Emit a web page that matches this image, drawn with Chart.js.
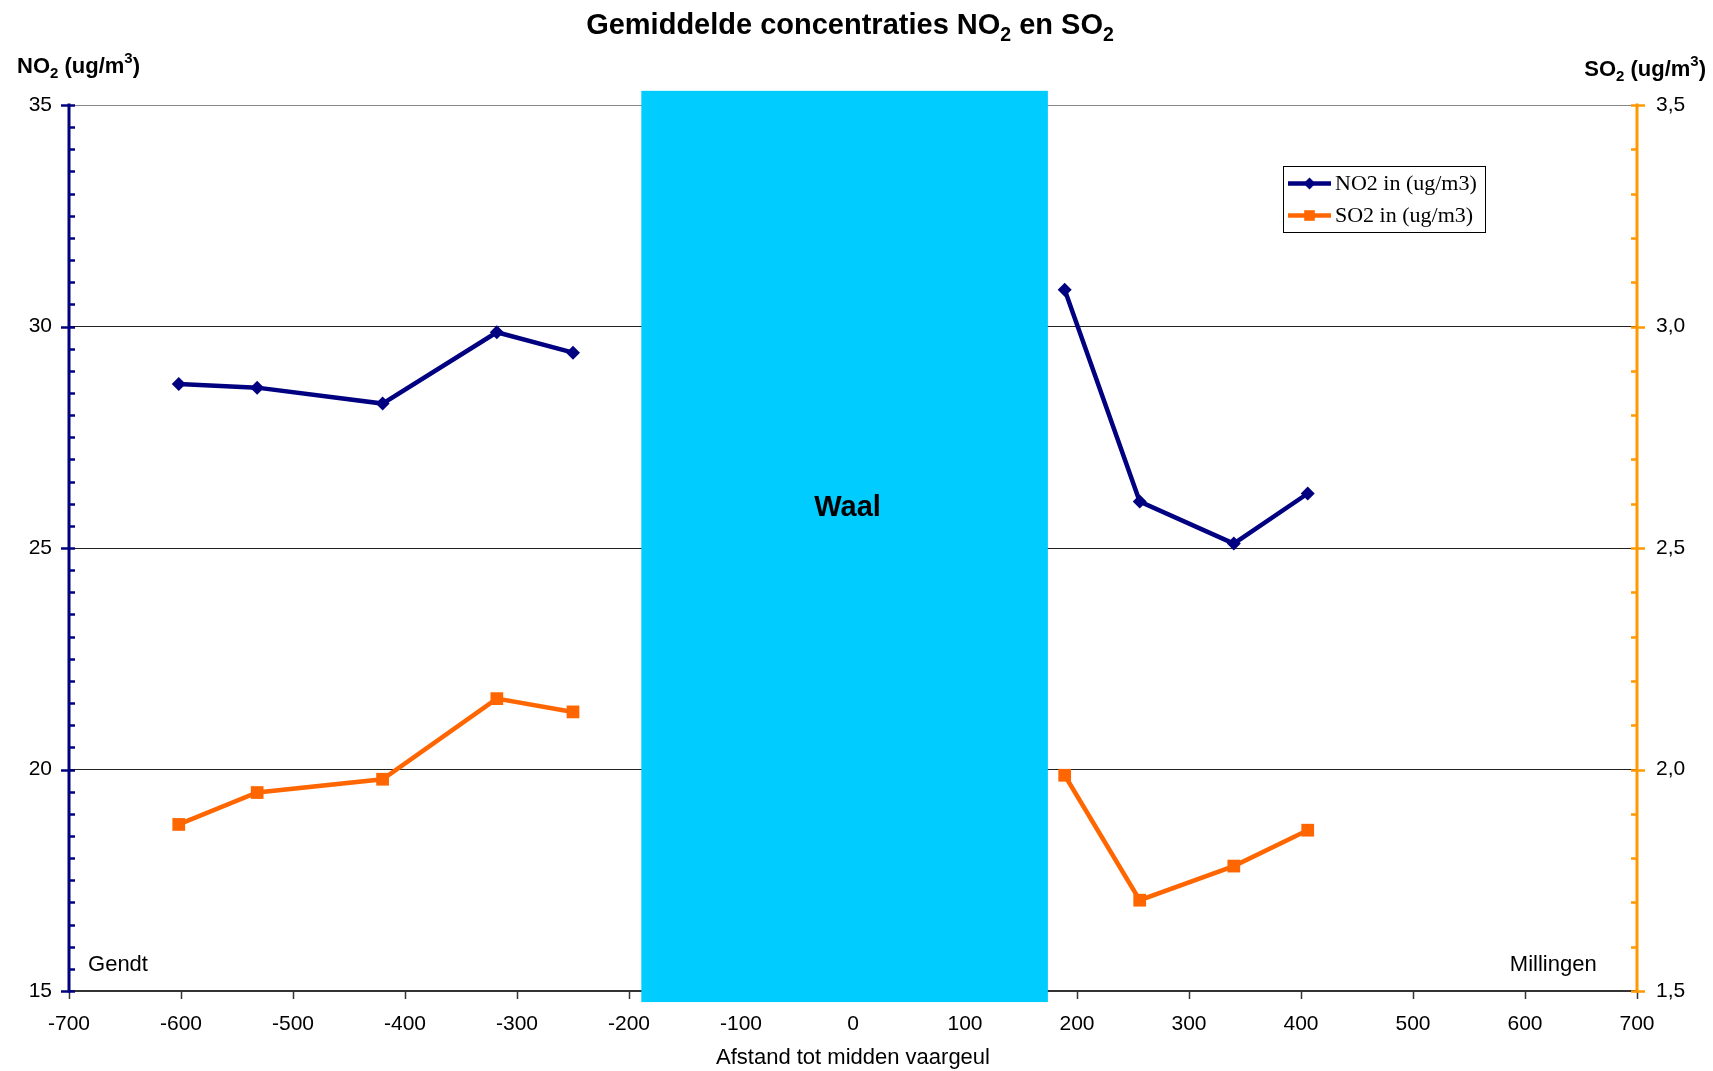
<!DOCTYPE html>
<html>
<head>
<meta charset="utf-8">
<title>Gemiddelde concentraties NO2 en SO2</title>
<script src="https://cdn.jsdelivr.net/npm/chart.js@4/dist/chart.umd.min.js"></script>
<style>
  html, body { margin: 0; padding: 0; background: #fff; }
  canvas { display: block; }
</style>
</head>
<body>
<canvas id="chart" width="1713" height="1071"></canvas>
<script>
// Distance of each measuring point to the middle of the fairway (m)
const distances = [-602, -532, -420, -318, -250, 189, 256, 340, 406];
// Mean NO2 concentration per point (ug/m3)
const no2Values = [28.70, 28.62, 28.26, 29.87, 29.41, 30.83, 26.05, 25.10, 26.23];
// Mean SO2 concentration per point (ug/m3)
const so2Values = [1.876, 1.948, 1.978, 2.160, 2.130, 1.987, 1.705, 1.782, 1.863];

// Extent of the river Waal along the distance axis (m) and on the NO2 axis
const waalSpan = [-189, 174];
const waalLevels = [14.75, 35.32];

// Axis ranges and tick steps
const xRange = [-700, 700];
const no2Range = [15, 35];
const so2Range = [1.5, 3.5];
const xStep = 100;
const no2Step = 5, no2Minor = 0.5;
const so2Step = 0.5, so2Minor = 0.1;

const seriesLabels = ['NO2 in (ug/m3)', 'SO2 in (ug/m3)'];
const bankLabels = ['Gendt', 'Millingen'];
const riverLabel = 'Waal';

const SANS = '"Liberation Sans", Arial, sans-serif';
const SERIF = '"Liberation Serif", "Times New Roman", serif';

const NAVY = '#000080';
const ORANGE = '#FF6600';
const AXIS_ORANGE = '#FF9900';
const RIVER = '#00CCFF';

function toPoints(ys) {
  return distances.map((x, i) => ({ x: x, y: ys[i] }));
}

// No line is drawn across the river
const skipRiver = {
  borderColor: ctx => (ctx.p0.parsed.x < waalSpan[0] && ctx.p1.parsed.x > waalSpan[1]) ? 'rgba(0,0,0,0)' : undefined
};

// Text with sub- and superscripts: parts = [text, 0 normal | 1 sub | 2 sup]
function drawRich(ctx, parts, x, y, align, weight, size, small) {
  const fontOf = k => weight + ' ' + (k ? small : size) + 'px ' + SANS;
  const widths = parts.map(p => { ctx.font = fontOf(p[1]); return ctx.measureText(p[0]).width; });
  const total = widths.reduce((a, b) => a + b, 0);
  let cx = align === 'center' ? x - total / 2 : align === 'right' ? x - total : x;
  ctx.textAlign = 'left';
  ctx.textBaseline = 'alphabetic';
  ctx.fillStyle = '#000';
  parts.forEach((p, i) => {
    ctx.font = fontOf(p[1]);
    const dy = p[1] === 1 ? size * 0.24 : p[1] === 2 ? -size * 0.42 : 0;
    ctx.fillText(p[0], cx, y + dy);
    cx += widths[i];
  });
}

const decorations = {
  id: 'decorations',
  beforeDatasetsDraw(chart) {
    const { ctx, chartArea: a, scales } = chart;
    const x = scales.x, yl = scales.yNO2, yr = scales.ySO2;
    ctx.save();

    // River Waal
    const rx0 = x.getPixelForValue(waalSpan[0]);
    const rx1 = x.getPixelForValue(waalSpan[1]);
    const ry0 = yl.getPixelForValue(waalLevels[1]);
    const ry1 = yl.getPixelForValue(waalLevels[0]);
    ctx.fillStyle = RIVER;
    ctx.fillRect(rx0, ry0, rx1 - rx0, ry1 - ry0);

    // Left (NO2) axis
    ctx.strokeStyle = NAVY;
    ctx.lineWidth = 3;
    ctx.beginPath();
    ctx.moveTo(a.left, yl.getPixelForValue(no2Range[1]) - 1.5);
    ctx.lineTo(a.left, yl.getPixelForValue(no2Range[0]) + 1.5);
    ctx.stroke();
    const nMinor = Math.round((no2Range[1] - no2Range[0]) / no2Minor);
    const perMajorL = Math.round(no2Step / no2Minor);
    for (let i = 0; i <= nMinor; i++) {
      const py = Math.round(yl.getPixelForValue(no2Range[0] + i * no2Minor)) + 0.5;
      ctx.lineWidth = 2.5;
      ctx.beginPath();
      if (i % perMajorL === 0) { ctx.moveTo(a.left - 8, py); ctx.lineTo(a.left + 6, py); }
      else { ctx.moveTo(a.left, py); ctx.lineTo(a.left + 6, py); }
      ctx.stroke();
    }

    // Right (SO2) axis
    ctx.strokeStyle = AXIS_ORANGE;
    ctx.lineWidth = 3;
    ctx.beginPath();
    ctx.moveTo(a.right, yr.getPixelForValue(so2Range[1]) - 1.5);
    ctx.lineTo(a.right, yr.getPixelForValue(so2Range[0]) + 1.5);
    ctx.stroke();
    const sMinor = Math.round((so2Range[1] - so2Range[0]) / so2Minor);
    const perMajorR = Math.round(so2Step / so2Minor);
    for (let i = 0; i <= sMinor; i++) {
      const py = Math.round(yr.getPixelForValue(so2Range[0] + i * so2Minor)) + 0.5;
      ctx.lineWidth = 2.5;
      ctx.beginPath();
      if (i % perMajorR === 0) { ctx.moveTo(a.right - 6, py); ctx.lineTo(a.right + 8, py); }
      else { ctx.moveTo(a.right - 6, py); ctx.lineTo(a.right, py); }
      ctx.stroke();
    }
    ctx.restore();
  },
  afterDatasetsDraw(chart) {
    const { ctx, scales } = chart;
    const x = scales.x, yl = scales.yNO2;
    ctx.save();
    ctx.fillStyle = '#000';
    ctx.textBaseline = 'middle';
    ctx.textAlign = 'center';
    ctx.font = 'bold 29px ' + SANS;
    ctx.fillText(riverLabel, x.getPixelForValue((waalSpan[0] + waalSpan[1]) / 2) + 3, yl.getPixelForValue(25.9));

    ctx.font = '22px ' + SANS;
    ctx.textBaseline = 'alphabetic';
    ctx.textAlign = 'left';
    ctx.fillText(bankLabels[0], x.getPixelForValue(-683), yl.getPixelForValue(15.45));
    ctx.textAlign = 'right';
    ctx.fillText(bankLabels[1], x.getPixelForValue(664), yl.getPixelForValue(15.45));
    ctx.restore();
  },
  afterDraw(chart) {
    const { ctx, chartArea: a } = chart;
    ctx.save();
    // Title and axis captions
    drawRich(ctx, [['Gemiddelde concentraties NO', 0], ['2', 1], [' en SO', 0], ['2', 1]],
      (a.left + a.right) / 2 - 3, 34, 'center', 'bold', 29, 19.5);
    drawRich(ctx, [['NO', 0], ['2', 1], [' (ug/m', 0], ['3', 2], [')', 0]],
      17, 72.5, 'left', 'bold', 22, 15);
    drawRich(ctx, [['SO', 0], ['2', 1], [' (ug/m', 0], ['3', 2], [')', 0]],
      chart.width - 7, 75.5, 'right', 'bold', 22, 15);

    // Legend
    const lx = a.right - 354, ly = a.top + 61, lw = 202, lh = 66;
    ctx.fillStyle = '#fff';
    ctx.fillRect(lx, ly, lw, lh);
    ctx.strokeStyle = '#000';
    ctx.lineWidth = 1;
    ctx.strokeRect(lx + 0.5, ly + 0.5, lw, lh);
    chart.data.datasets.forEach((ds, i) => {
      const ry = ly + 17.5 + 32 * i;
      ctx.strokeStyle = ds.borderColor;
      ctx.lineWidth = 4.5;
      ctx.beginPath();
      ctx.moveTo(lx + 5, ry);
      ctx.lineTo(lx + 48, ry);
      ctx.stroke();
      ctx.fillStyle = ds.backgroundColor;
      Chart.helpers.drawPoint(ctx, { pointStyle: ds.pointStyle, rotation: 0, radius: i === 0 ? 6 : 7.5, borderWidth: 0 }, lx + 26.5, ry);
      ctx.fillStyle = '#000';
      ctx.font = '22px ' + SERIF;
      ctx.textAlign = 'left';
      ctx.textBaseline = 'middle';
      ctx.fillText(ds.label, lx + 52, ry + 1);
    });
    ctx.restore();
  }
};

const tickFont = { family: SANS, size: 21 };

new Chart(document.getElementById('chart'), {
  type: 'line',
  data: {
    datasets: [
      {
        label: seriesLabels[0],
        data: toPoints(no2Values),
        yAxisID: 'yNO2',
        borderColor: NAVY,
        backgroundColor: NAVY,
        borderWidth: 4.5,
        pointStyle: 'rectRot',
        pointRadius: 7,
        pointBorderWidth: 0,
        pointBackgroundColor: NAVY,
        tension: 0,
        segment: skipRiver
      },
      {
        label: seriesLabels[1],
        data: toPoints(so2Values),
        yAxisID: 'ySO2',
        borderColor: ORANGE,
        backgroundColor: ORANGE,
        borderWidth: 4.5,
        pointStyle: 'rect',
        pointRadius: 9,
        pointBorderWidth: 0,
        pointBackgroundColor: ORANGE,
        tension: 0,
        segment: skipRiver
      }
    ]
  },
  options: {
    responsive: false,
    devicePixelRatio: 1,
    animation: false,
    layout: { padding: { top: 105, left: 0, right: 0, bottom: 0 } },
    plugins: {
      legend: { display: false },
      tooltip: { enabled: false },
      title: { display: false }
    },
    scales: {
      x: {
        type: 'linear',
        position: 'bottom',
        min: xRange[0],
        max: xRange[1],
        ticks: { stepSize: xStep, font: tickFont, color: '#000', padding: 13, maxRotation: 0, autoSkip: false },
        grid: { drawOnChartArea: false, tickLength: 8, tickColor: '#333', tickWidth: 1.5 },
        border: { color: '#333', width: 2 },
        title: {
          display: true,
          text: 'Afstand tot midden vaargeul',
          font: { family: SANS, size: 22 },
          color: '#000',
          padding: { top: 0, bottom: 0 }
        },
        afterFit: s => { s.height = 80; }
      },
      yNO2: {
        type: 'linear',
        position: 'left',
        min: no2Range[0],
        max: no2Range[1],
        ticks: { stepSize: no2Step, font: tickFont, color: '#000', padding: 17 },
        grid: {
          drawTicks: false,
          lineWidth: 1,
          color: c => (c.tick && c.tick.value === no2Range[1]) ? '#888' : '#222'
        },
        border: { display: false },
        afterFit: s => { s.width = 69; }
      },
      ySO2: {
        type: 'linear',
        position: 'right',
        min: so2Range[0],
        max: so2Range[1],
        ticks: {
          stepSize: so2Step, font: tickFont, color: '#000', padding: 19,
          callback: v => v.toFixed(1).replace('.', ',')
        },
        grid: { drawOnChartArea: false, drawTicks: false },
        border: { display: false },
        afterFit: s => { s.width = 76; }
      }
    }
  },
  plugins: [decorations]
});
</script>
</body>
</html>
